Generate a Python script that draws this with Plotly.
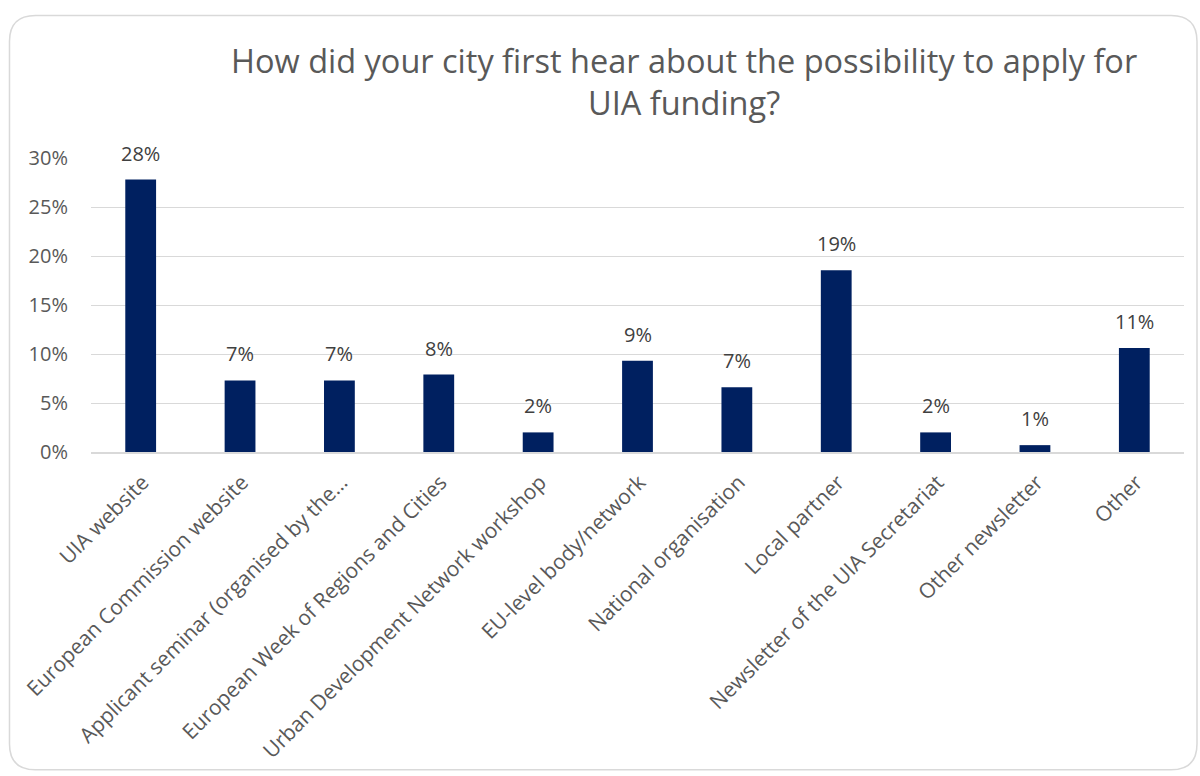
import plotly.graph_objects as go

# Survey answers: how cities first heard about UIA funding
categories = [
    "UIA website",
    "European Commission website",
    "Applicant seminar (organised by the…",
    "European Week of Regions and Cities",
    "Urban Development Network workshop",
    "EU-level body/network",
    "National organisation",
    "Local partner",
    "Newsletter of the UIA Secretariat",
    "Other newsletter",
    "Other",
]
shares = [0.278, 0.073, 0.073, 0.079, 0.020, 0.093, 0.066, 0.1855, 0.020, 0.007, 0.106]
y_ticks = [0, 0.05, 0.10, 0.15, 0.20, 0.25, 0.30]

W, H = 1200, 776
ML, MR, MT, MB = 91, 16, 158, 322
PW, PH = W - ML - MR, H - MT - MB

BAR = "#002060"
AXIS_TXT = "#595959"
LABEL_TXT = "#404040"
FONT = "Open Sans"


def px(x, y):
    """Pixel position -> paper coordinates."""
    return (x - ML) / PW, (H - MB - y) / PH


def card_path(x0, y0, x1, y1, r):
    def p(x, y):
        a, b = px(x, y)
        return f"{a:.5f},{b:.5f}"
    pts = [
        "M" + p(x0 + r, y0),
        "L" + p(x1 - r, y0),
        "Q" + p(x1, y0) + " " + p(x1, y0 + r),
        "L" + p(x1, y1 - r),
        "Q" + p(x1, y1) + " " + p(x1 - r, y1),
        "L" + p(x0 + r, y1),
        "Q" + p(x0, y1) + " " + p(x0, y1 - r),
        "L" + p(x0, y0 + r),
        "Q" + p(x0, y0) + " " + p(x0 + r, y0),
    ]
    return " ".join(pts) + " Z"


fig = go.Figure(
    go.Bar(
        x=categories,
        y=shares,
        marker=dict(color=BAR, line=dict(width=0)),
        hoverinfo="skip",
    )
)

# value labels above each bar
for cat, val in zip(categories, shares):
    fig.add_annotation(
        x=cat, y=val, xref="x", yref="y",
        text=f"{val:.0%}",
        showarrow=False, xanchor="center", yanchor="bottom",
        yshift=11,
        font=dict(family=FONT, size=20, color=LABEL_TXT),
    )

tx, ty = px(684, 81)
fig.add_annotation(
    xref="paper", yref="paper", x=tx, y=ty,
    text="How did your city first hear about the possibility to apply for<br>UIA funding?",
    showarrow=False, xanchor="center", yanchor="middle", align="center",
    font=dict(family=FONT, size=32.5, color=AXIS_TXT),
)

fig.add_shape(
    type="path", xref="paper", yref="paper",
    path=card_path(9.5, 14.5, 1197, 774, 26),
    line=dict(color="#d9d9d9", width=1.5),
    layer="below",
)

fig.update_layout(
    width=W, height=H,
    margin=dict(l=ML, r=MR, t=MT, b=MB),
    paper_bgcolor="white",
    plot_bgcolor="white",
    showlegend=False,
    bargap=0.69,
    font=dict(family=FONT, color=AXIS_TXT),
)
fig.update_xaxes(
    tickangle=-45,
    tickfont=dict(family=FONT, size=21, color=AXIS_TXT),
    showgrid=False,
    showline=True, linecolor="#d9d9d9", linewidth=1.5,
    ticks="",
    ticklabelstandoff=8,
    ticklabelshift=2,
    fixedrange=True,
)
fig.update_yaxes(
    range=[0, 0.30],
    tickvals=y_ticks,
    tickformat=".0%",
    tickfont=dict(family=FONT, size=20, color=AXIS_TXT),
    showgrid=True, gridcolor="#d9d9d9", gridwidth=1.3,
    zeroline=False,
    showline=False,
    ticks="",
    ticklabelstandoff=22,
    fixedrange=True,
)

fig.write_html("out.html", config={"displayModeBar": False})
